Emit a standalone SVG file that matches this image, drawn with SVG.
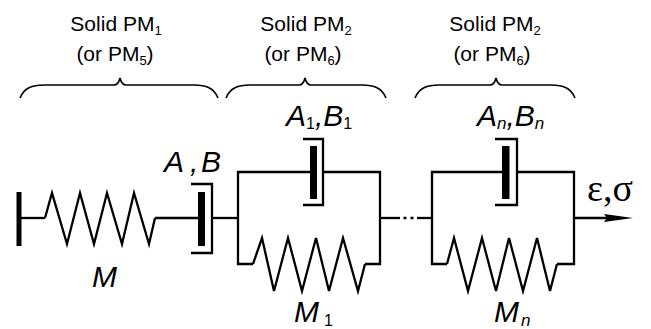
<svg xmlns="http://www.w3.org/2000/svg" width="651" height="329" viewBox="0 0 651 329">
<style>
.hdr{font-family:"Liberation Sans",Arial,sans-serif;font-size:21px;fill:#000;text-anchor:middle}
.sub{font-size:13px}
.lbl{font-family:"Liberation Sans",Arial,sans-serif;font-style:italic;font-size:30px;fill:#000}
.lsub{font-size:16px;font-style:normal}
.lsubi{font-size:17px;font-style:italic}
.gr{font-family:"Liberation Serif","Times New Roman",serif;font-size:38px;fill:#000}
.ln{fill:none;stroke:#000;stroke-width:2.3;stroke-linejoin:miter}
.br{fill:none;stroke:#000;stroke-width:1.6}
.bar{fill:#000}
</style>
<rect width="651" height="329" fill="#fff"/>
<g id="headers">
<text class="hdr" x="116" y="31">Solid PM<tspan class="sub" dy="4">1</tspan></text>
<text class="hdr" x="115" y="61">(or PM<tspan class="sub" dy="4">5</tspan><tspan dy="-4">)</tspan></text>
<text class="hdr" x="306" y="31">Solid PM<tspan class="sub" dy="4">2</tspan></text>
<text class="hdr" x="303" y="61">(or PM<tspan class="sub" dy="4">6</tspan><tspan dy="-4">)</tspan></text>
<text class="hdr" x="495" y="31">Solid PM<tspan class="sub" dy="4">2</tspan></text>
<text class="hdr" x="492" y="61">(or PM<tspan class="sub" dy="4">6</tspan><tspan dy="-4">)</tspan></text>
</g>
<g id="braces">
<path class="br" d="M20,98 C24,88 32,85 44,85 L114,85 C117,85 119,82 120,78 C121,82 123,85 126,85 L194,85 C206,85 214,88 218,98"/>
<path class="br" d="M226,98 C230,88 238,85 250,85 L299,85 C302,85 304,82 305,78 C306,82 308,85 311,85 L362,85 C374,85 382,88 386,98"/>
<path class="br" d="M415,98 C419,88 427,85 439,85 L490,85 C493,85 495,82 496,78 C497,82 499,85 502,85 L551,85 C563,85 571,88 575,98"/>
</g>
<g id="wall">
<rect class="bar" x="16.5" y="192" width="5" height="54"/>
</g>
<g id="spring-M">
<polyline class="ln" points="45,218 52,193 67,244 80,193 94,244 107,193 122,244 134,193 149,244 155,218"/>
<text class="lbl" x="92" y="287">M</text>
</g>
<g id="dashpot-AB">
<rect class="bar" x="198" y="192" width="7" height="54"/>
<path class="ln" d="M191,184 H212 V253 H191"/>
<text class="lbl" x="164" y="172">A<tspan x="190">,</tspan><tspan x="201">B</tspan></text>
</g>
<g id="dashpot-A1B1">
<rect class="bar" x="310" y="146" width="7" height="53"/>
<path class="ln" d="M303,139 H323 V205 H303"/>
<text class="lbl" x="286" y="126">A<tspan class="lsub" dy="3">1</tspan><tspan dy="-3">,B</tspan><tspan class="lsub" dy="3">1</tspan></text>
</g>
<g id="spring-M1">
<polyline class="ln" points="253,264 262,238 274,291 288,238 302,291 316,238 329,291 343,238 358,291 365,264"/>
<text class="lbl" x="294" y="322">M<tspan class="lsub" dx="5" dy="4">1</tspan></text>
</g>
<g id="dashpot-AnBn">
<rect class="bar" x="502" y="146" width="7.5" height="53"/>
<path class="ln" d="M495,139 H517 V205 H495"/>
<text class="lbl" x="477" y="126">A<tspan class="lsubi" dy="3">n</tspan><tspan dy="-3">,B</tspan><tspan class="lsubi" dy="3">n</tspan></text>
</g>
<g id="spring-Mn">
<polyline class="ln" points="447,264 454,238 468,291 482,238 496,291 509,238 523,291 537,238 550,291 557,264"/>
<text class="lbl" x="494" y="322">M<tspan class="lsubi" dx="2" dy="4">n</tspan></text>
</g>
<g id="connectors">
<path class="ln" d="M19,218 H45"/>
<path class="ln" d="M155,218 H198"/>
<path class="ln" d="M212,218 H238"/>
<path class="ln" d="M310,172 H238 V264 H253"/>
<path class="ln" d="M323,172 H380 V264 H365"/>
<path class="ln" d="M380,218 H400"/>
<path class="ln" d="M403.5,218 H406.5 M410.5,218 H413.5"/>
<path class="ln" d="M417,218 H432"/>
<path class="ln" d="M502,172 H432 V264 H447"/>
<path class="ln" d="M517,172 H574 V264 H557"/>
<path class="ln" d="M574,218 H612"/>
<polygon class="bar" points="633,218 604,214 607,218 604,222"/>
<text class="gr" x="587" y="201">ε,σ</text>
</g>
</svg>
